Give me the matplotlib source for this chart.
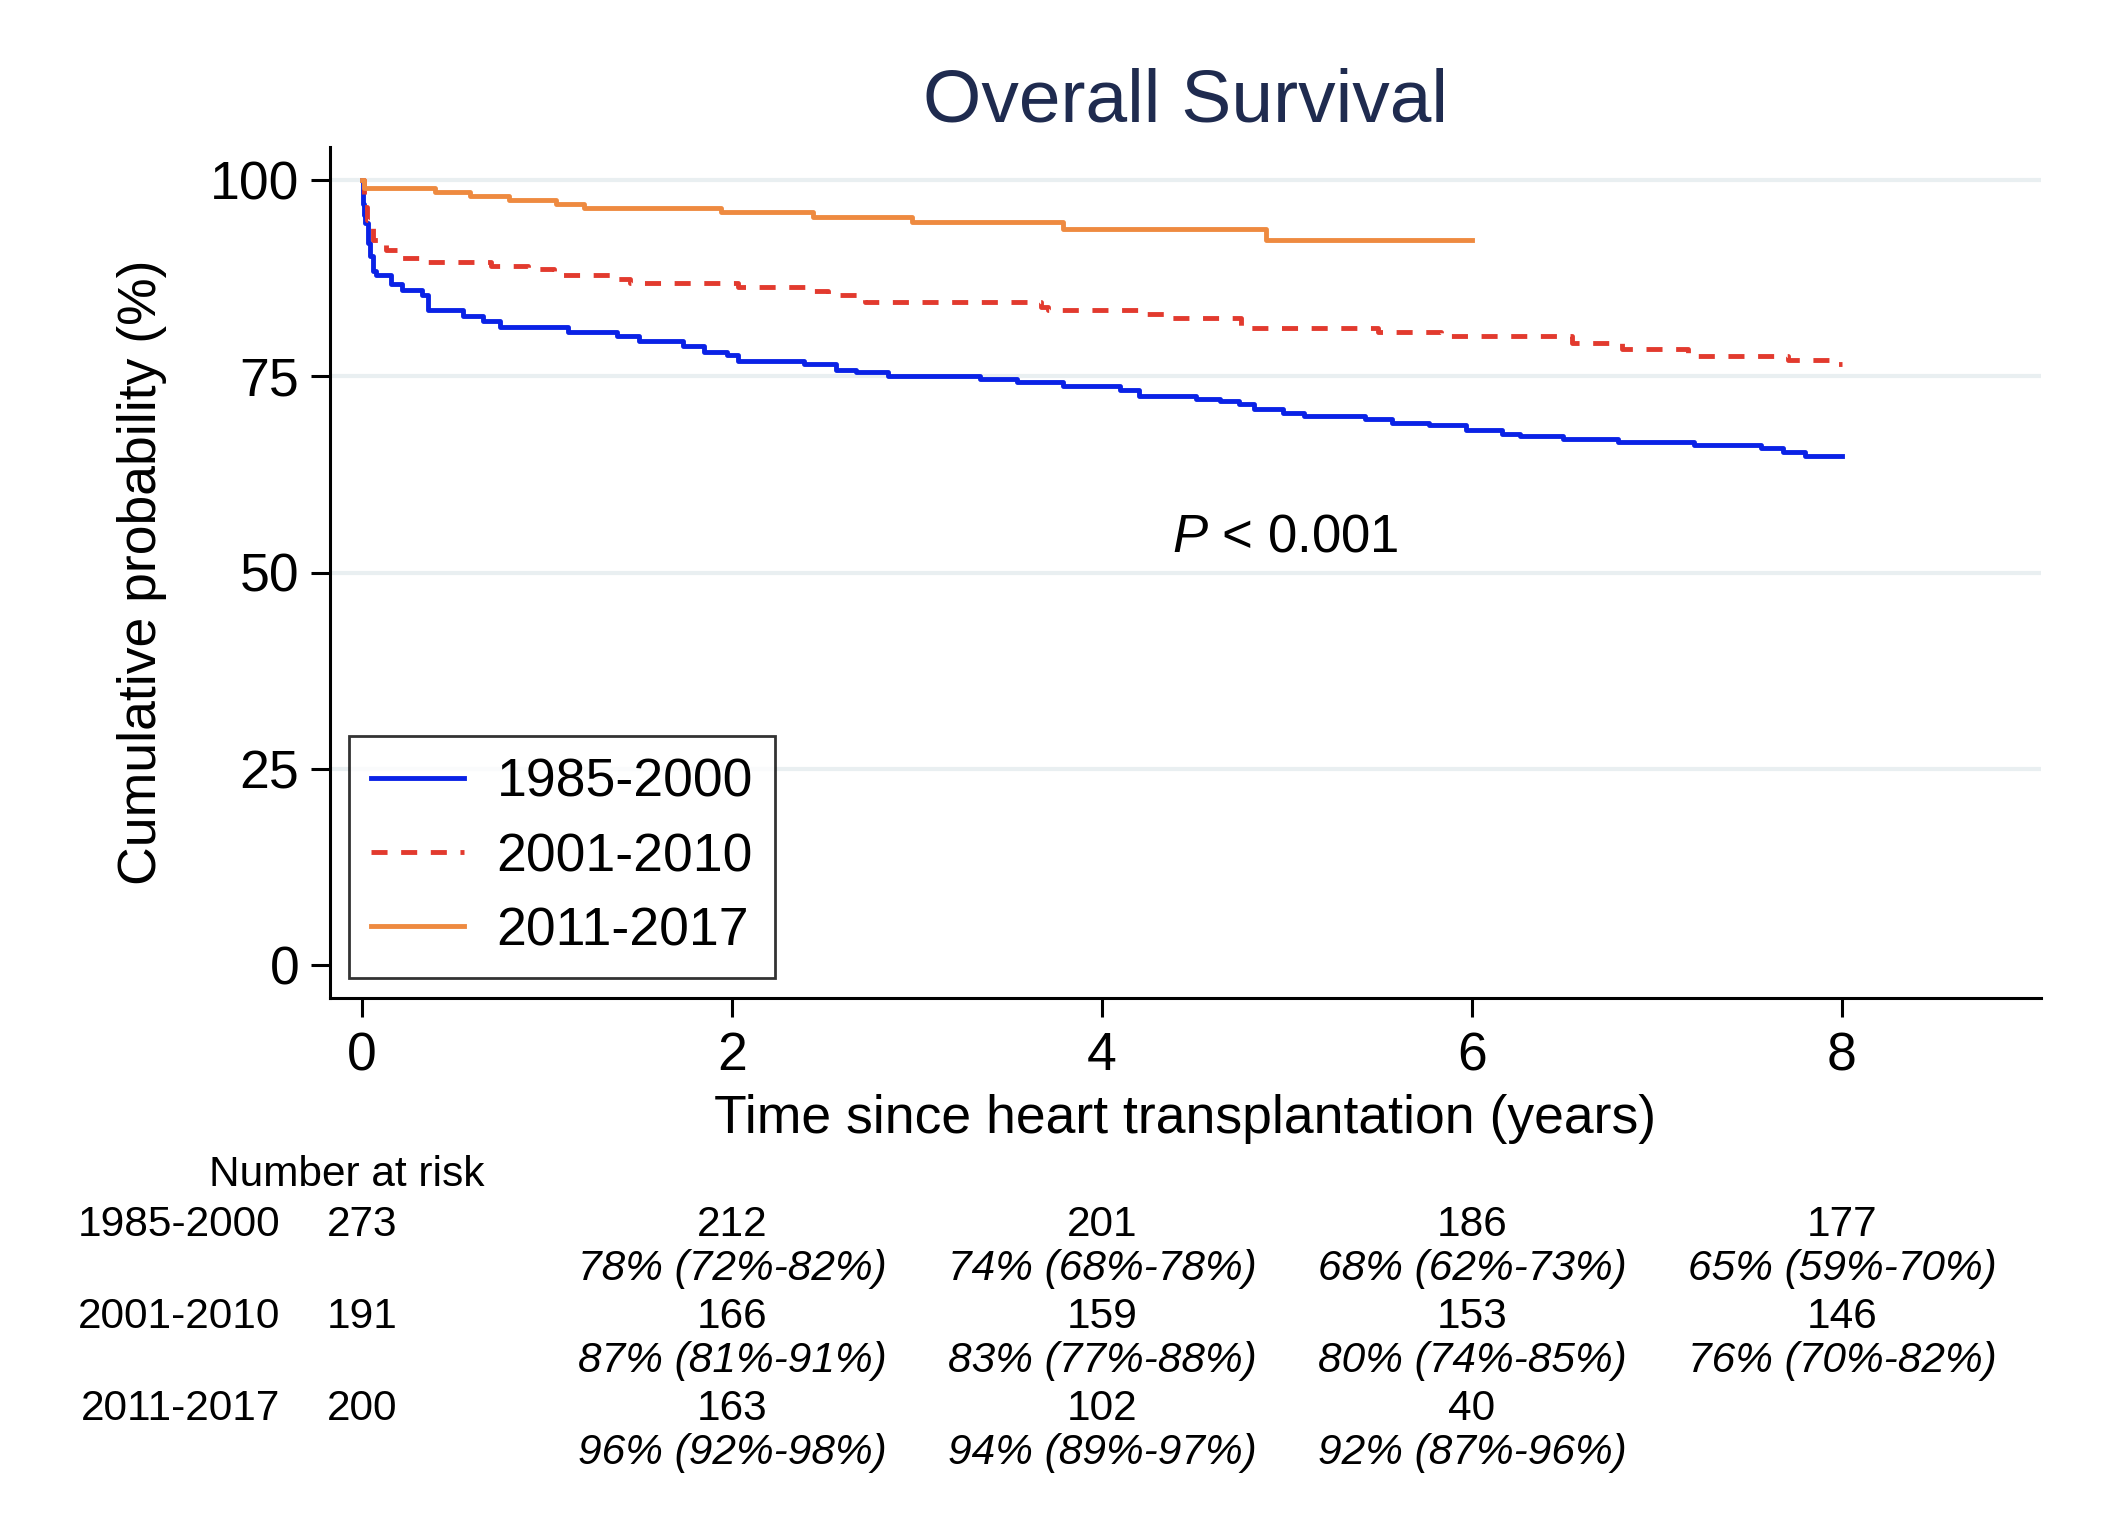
import numpy as np
import matplotlib
matplotlib.use("Agg")
import matplotlib.pyplot as plt
import matplotlib.transforms as mtransforms

plt.rcParams['font.family'] = ['Liberation Sans', 'DejaVu Sans']
plt.rcParams['mathtext.fontset'] = 'custom'
plt.rcParams['mathtext.rm'] = 'Liberation Sans'
plt.rcParams['mathtext.it'] = 'Liberation Sans:italic'

# Kaplan-Meier steps (time in years, survival in %)
t_1985 = [0, 0.005, 0.01, 0.018, 0.03, 0.045, 0.06, 0.075, 0.156, 0.218, 0.327, 0.358,
          0.544, 0.653, 0.746, 1.113, 1.377, 1.498, 1.734, 1.848, 1.972, 2.034, 2.391,
          2.562, 2.670, 2.841, 3.338, 3.540, 3.789, 4.10, 4.20, 4.51, 4.64, 4.74, 4.82,
          4.98, 5.09, 5.42, 5.57, 5.77, 5.97, 6.16, 6.26, 6.49, 6.79, 7.20, 7.56, 7.68,
          7.80, 8.0]
s_1985 = [100, 97.0, 95.5, 94.5, 92.0, 90.3, 88.4, 87.9, 86.8, 86.0, 85.3, 83.5,
          82.7, 82.0, 81.3, 80.6, 80.1, 79.5, 78.8, 78.1, 77.7, 77.0, 76.5,
          75.8, 75.5, 75.0, 74.6, 74.3, 73.7, 73.2, 72.5, 72.1, 71.8, 71.5, 70.8,
          70.3, 69.9, 69.5, 69.1, 68.8, 68.2, 67.7, 67.4, 67.0, 66.6, 66.3, 65.8, 65.4,
          64.8, 64.8]

t_2001 = [0, 0.01, 0.025, 0.057, 0.13, 0.21, 0.31, 0.70, 0.90, 1.04, 1.36, 1.45,
          2.03, 2.41, 2.52, 2.72, 3.67, 3.71, 4.24, 4.38, 4.75, 5.49, 5.83, 6.54,
          6.81, 7.17, 7.71, 7.98, 8.0]
s_2001 = [100, 96.5, 94.9, 92.4, 91.1, 90.1, 89.6, 89.1, 88.6, 87.9, 87.4, 86.9,
          86.4, 85.8, 85.4, 84.4, 83.8, 83.4, 82.9, 82.4, 81.1, 80.6, 80.1, 79.2,
          78.5, 77.6, 77.1, 76.6, 76.6]

t_2011 = [0, 0.01, 0.395, 0.584, 0.792, 1.05, 1.202, 1.941, 2.438, 2.975, 3.789, 4.884, 6.0]
s_2011 = [100, 99.0, 98.5, 98.0, 97.5, 97.0, 96.4, 95.9, 95.3, 94.6, 93.7, 92.4, 92.4]

groups = ["1985-2000", "2001-2010", "2011-2017"]
colors = ["#0a22e6", "#e23a2e", "#ee8a40"]

# number at risk table
risk_times = [0, 2, 4, 6, 8]
risk_1985 = ["273", "212", "201", "186", "177"]
risk_2001 = ["191", "166", "159", "153", "146"]
risk_2011 = ["200", "163", "102", "40"]
ci_1985 = ["78% (72%-82%)", "74% (68%-78%)", "68% (62%-73%)", "65% (59%-70%)"]
ci_2001 = ["87% (81%-91%)", "83% (77%-88%)", "80% (74%-85%)", "76% (70%-82%)"]
ci_2011 = ["96% (92%-98%)", "94% (89%-97%)", "92% (87%-96%)"]

W, H = 2110, 1534
fig = plt.figure(figsize=(W / 100, H / 100), dpi=100)
ax = fig.add_axes([330 / W, 1 - 998 / H, (2041 - 330) / W, (998 - 147) / H])

ax.plot(t_1985, s_1985, drawstyle="steps-post", color=colors[0], lw=3.5, label=groups[0])
ax.plot(t_2001, s_2001, drawstyle="steps-post", color=colors[1], lw=3.5,
        dashes=(3.3, 2.8), label=groups[1])
ax.plot(t_2011, s_2011, drawstyle="steps-post", color=colors[2], lw=3.5, label=groups[2])

ax.set_xlim(-0.173, 9.076)
ax.set_ylim(-4.2, 104.2)
ax.set_xticks([0, 2, 4, 6, 8])
ax.set_yticks([0, 25, 50, 75, 100])
for g in [25, 50, 75, 100]:
    ax.axhline(g, color="#e9eff1", lw=3, zorder=0)

for side in ["top", "right"]:
    ax.spines[side].set_visible(False)
for side in ["left", "bottom"]:
    ax.spines[side].set_linewidth(2.2)
ax.tick_params(axis="both", length=14, width=2.2, labelsize=38.5, direction="out")
ax.tick_params(axis="x", pad=10)
ax.tick_params(axis="y", pad=8)

ax.set_xlabel("Time since heart transplantation (years)", fontsize=38.5, labelpad=9)
ax.set_ylabel("Cumulative probability (%)", fontsize=38.5, labelpad=31)
ax.set_title("Overall Survival", fontsize=54, color="#1f2b4f", pad=18)

ax.text(4.99, 54.5, r"$P$ < 0.001", fontsize=38, ha="center", va="center")

leg = ax.legend(loc="lower left", bbox_to_anchor=(0.0111, 0.0235), borderaxespad=0,
                fontsize=38.5, frameon=True, fancybox=False, handlelength=1.75,
                handletextpad=0.6, labelspacing=0.45, borderpad=0.41)
leg.get_frame().set_edgecolor("black")
leg.get_frame().set_linewidth(2.0)

# number at risk table below the plot
trans = mtransforms.blended_transform_factory(ax.transData, fig.transFigure)
fig.text(347 / W, 1 - 1175 / H, "Number at risk", fontsize=30.5, ha="center", va="center")

rows = [(risk_1985, ci_1985), (risk_2001, ci_2001), (risk_2011, ci_2011)]
row_y = [1225, 1317, 1409]
for name, (counts, cis), y in zip(groups, rows, row_y):
    fig.text(280 / W, 1 - y / H, name, fontsize=30.5, ha="right", va="center")
    for t, n in zip(risk_times, counts):
        ax.text(t, 1 - y / H, n, transform=trans, fontsize=30.5, ha="center", va="center")
    for t, c in zip(risk_times[1:], cis):
        ax.text(t, 1 - (y + 44) / H, c, transform=trans, fontsize=30.5, ha="center",
                va="center", style="italic")

fig.savefig("out.png", dpi=100, facecolor="white")
